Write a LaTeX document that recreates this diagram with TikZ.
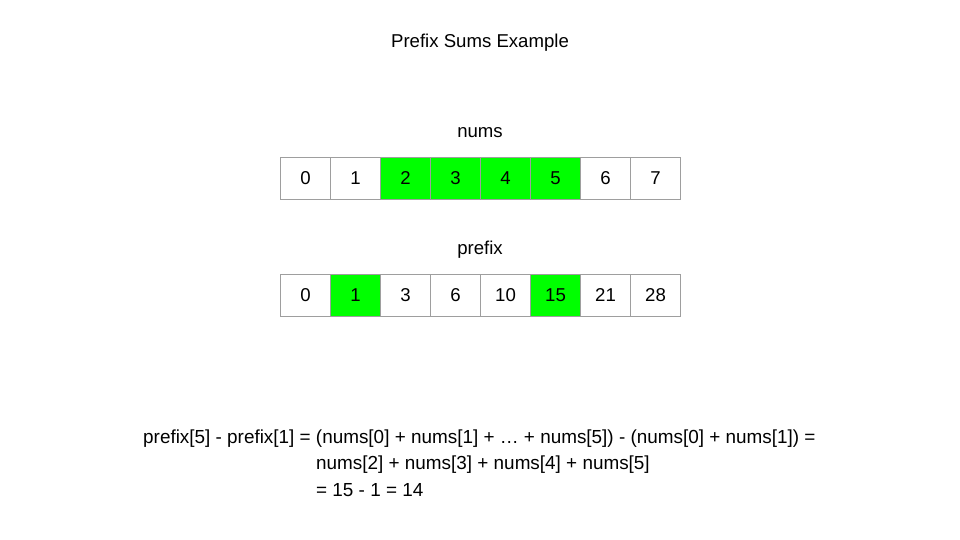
\documentclass[tikz,border=0pt]{standalone}
\usepackage{fontspec}
\setmainfont{Liberation Sans}
\definecolor{cellgreen}{HTML}{00FF00}
\definecolor{cellline}{HTML}{9E9E9E}
\tikzset{
  cell/.style={draw=cellline, line width=1pt, minimum width=50pt, minimum height=42pt, inner sep=0pt, font=\fontsize{18.6}{22}\selectfont, anchor=north west},
  hot/.style={fill=cellgreen},
  lbl/.style={font=\fontsize{18.6}{22}\selectfont, inner sep=0pt},
  eq/.style={font=\fontsize{18.9}{22}\selectfont, inner sep=0pt, anchor=west}
}
\begin{document}
\begin{tikzpicture}[x=1pt,y=-1pt]
\useasboundingbox[fill=white] (0,0) rectangle (960,540);
\node[lbl] (title) at (480,43) {Prefix Sums Example};
\node[lbl] (numslbl) at (480,133) {nums};
\node[lbl] (prefixlbl) at (480,250) {prefix};
\foreach \v [count=\i from 0] in {0,1,2,3,4,5,6,7} {
  \ifnum\i>1 \ifnum\i<6
    \node[cell,hot] (n\i) at (280+50*\i,157) {\v};
  \else
    \node[cell] (n\i) at (280+50*\i,157) {\v};
  \fi\else
    \node[cell] (n\i) at (280+50*\i,157) {\v};
  \fi
}
\foreach \v [count=\i from 0] in {0,1,3,6,10,15,21,28} {
  \ifnum\i=1
    \node[cell,hot] (p\i) at (280+50*\i,274) {\v};
  \else\ifnum\i=5
    \node[cell,hot] (p\i) at (280+50*\i,274) {\v};
  \else
    \node[cell] (p\i) at (280+50*\i,274) {\v};
  \fi\fi
}
\node[eq] (l1) at (143,439) {prefix[5] - prefix[1] = (nums[0] + nums[1] + … + nums[5]) - (nums[0] + nums[1]) =};
\node[eq] (l2) at (316,464.5) {nums[2] + nums[3] + nums[4] + nums[5]};
\node[eq] (l3) at (316,490) {= 15 - 1 = 14};
\end{tikzpicture}
\end{document}
